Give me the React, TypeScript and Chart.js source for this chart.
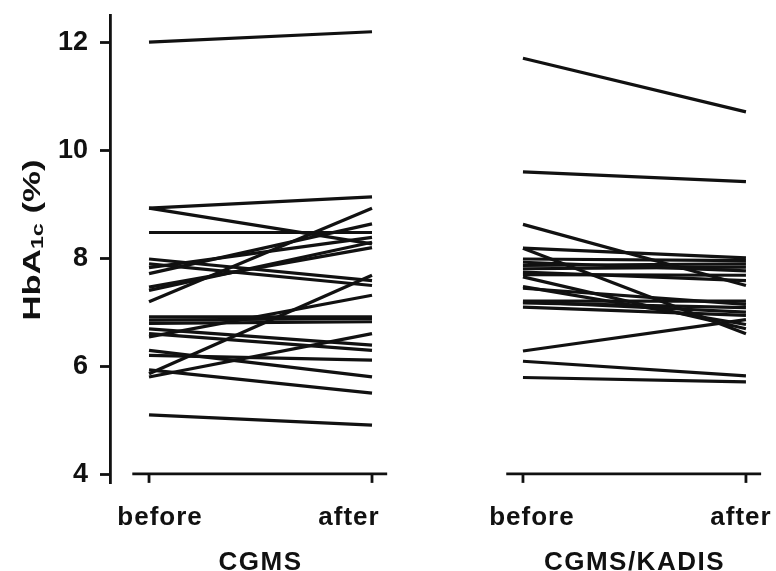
import React, { useEffect, useRef } from "react";
import { Chart, registerables } from "chart.js";

Chart.register(...registerables);

// ---- data ----
const yTickValues = [4, 6, 8, 10, 12];
const categoryPositions = [0, 1, 1.677, 2.677];
const categoryLabels = ["before", "after", "before", "after"];
const groupLabels = ["CGMS", "CGMS/KADIS"];
const yTitleMain = "HbA";
const yTitleSub = "1c";
const yTitleTail = " (%)";

const cgmsBefore = [12.0, 8.93, 8.93, 8.48, 7.99, 7.9, 7.83, 7.72, 7.47, 7.41, 7.2, 6.92, 6.86, 6.8, 6.7, 6.61, 6.55, 6.3, 6.21, 5.94, 5.87, 5.81, 5.11];
const cgmsAfter = [12.19, 9.14, 8.27, 8.48, 7.59, 7.5, 8.39, 8.64, 8.2, 8.3, 8.93, 6.92, 6.89, 6.83, 6.4, 6.3, 7.32, 5.81, 6.12, 5.51, 7.69, 6.61, 4.92];

const kadisBefore = [11.7, 9.6, 8.63, 8.19, 8.19, 7.99, 7.93, 7.87, 7.81, 7.75, 7.7, 7.66, 7.48, 7.45, 7.21, 7.2, 7.18, 7.1, 6.29, 6.1, 5.8];
const kadisAfter = [10.71, 9.42, 7.5, 8.01, 6.61, 7.96, 7.77, 7.9, 7.84, 7.59, 7.69, 6.7, 6.78, 7.15, 7.21, 7.01, 7.09, 6.95, 6.87, 5.83, 5.72];

const INK = "#111111";
const FONT = "'Liberation Sans', Arial, Helvetica, sans-serif";

function buildDatasets() {
  const sets: any[] = [];
  const add = (before: number[], after: number[], x0: number, x1: number) => {
    before.forEach((b, i) => {
      sets.push({
        data: [
          { x: x0, y: b },
          { x: x1, y: after[i] },
        ],
        borderColor: INK,
        borderWidth: 3.2,
        pointRadius: 0,
        fill: false,
        tension: 0,
      });
    });
  };
  add(cgmsBefore, cgmsAfter, categoryPositions[0], categoryPositions[1]);
  add(kadisBefore, kadisAfter, categoryPositions[2], categoryPositions[3]);
  return sets;
}

const decorPlugin = {
  id: "decor",
  afterDraw(chart: any) {
    const ctx = chart.ctx as CanvasRenderingContext2D;
    const xs = chart.scales.x;
    const ys = chart.scales.y;
    const axisY = ys.getPixelForValue(yTickValues[0]) - 1;
    ctx.save();
    ctx.strokeStyle = INK;
    ctx.fillStyle = INK;
    ctx.lineWidth = 2.8;
    ctx.lineCap = "butt";
    // x axis segments, one per group
    for (let g = 0; g < groupLabels.length; g++) {
      const a = categoryPositions[2 * g];
      const b = categoryPositions[2 * g + 1];
      const left = xs.getPixelForValue(a - 0.075);
      const right = xs.getPixelForValue(b + 0.068);
      ctx.beginPath();
      ctx.moveTo(left, axisY);
      ctx.lineTo(right, axisY);
      ctx.stroke();
      for (const v of [a, b]) {
        const px = xs.getPixelForValue(v);
        ctx.beginPath();
        ctx.moveTo(px, axisY);
        ctx.lineTo(px, axisY + 9);
        ctx.stroke();
      }
    }
    // category labels
    const labelShift = [11, -23, 9, -5];
    ctx.font = `bold 26px ${FONT}`;
    (ctx as any).letterSpacing = "1px";
    ctx.textAlign = "center";
    ctx.textBaseline = "alphabetic";
    categoryLabels.forEach((lab, i) => {
      const px = xs.getPixelForValue(categoryPositions[i]) + labelShift[i];
      ctx.fillText(lab, px, 525);
    });
    // group labels
    (ctx as any).letterSpacing = "1.5px";
    groupLabels.forEach((lab, g) => {
      const px = (xs.getPixelForValue(categoryPositions[2 * g]) + xs.getPixelForValue(categoryPositions[2 * g + 1])) / 2;
      ctx.fillText(lab, px, 570);
    });
    // y title with subscript
    (ctx as any).letterSpacing = "0px";
    ctx.translate(40, 240);
    ctx.rotate(-Math.PI / 2);
    ctx.scale(1.45, 1);
    const mainFont = `bold 24px ${FONT}`;
    const subFont = `bold 16px ${FONT}`;
    ctx.font = mainFont;
    const w1 = ctx.measureText(yTitleMain).width;
    const w3 = ctx.measureText(yTitleTail).width;
    ctx.font = subFont;
    const w2 = ctx.measureText(yTitleSub).width;
    const total = w1 + w2 + w3;
    let x = -total / 2;
    ctx.textAlign = "left";
    ctx.font = mainFont;
    ctx.fillText(yTitleMain, x, 0);
    x += w1;
    ctx.font = subFont;
    ctx.fillText(yTitleSub, x, 3);
    x += w2;
    ctx.font = mainFont;
    ctx.fillText(yTitleTail, x, 0);
    ctx.restore();
  },
};

export default function App() {
  const ref = useRef<HTMLCanvasElement | null>(null);
  useEffect(() => {
    if (!ref.current) return;
    const chart = new Chart(ref.current, {
      type: "line",
      data: { datasets: buildDatasets() },
      options: {
        animation: false,
        responsive: false,
        devicePixelRatio: 1,
        layout: { padding: { left: 0, right: 16, top: 15, bottom: 88 } },
        plugins: { legend: { display: false }, tooltip: { enabled: false } },
        scales: {
          x: {
            type: "linear",
            display: false,
            min: -0.175,
            max: 2.74,
          },
          y: {
            type: "linear",
            min: 3.85,
            max: 12.5,
            afterFit: (scale: any) => {
              scale.width = 110;
              scale.paddingTop = 0;
              scale.paddingBottom = 0;
            },
            afterBuildTicks: (scale: any) => {
              scale.ticks = yTickValues.map((v) => ({ value: v }));
            },
            ticks: {
              color: INK,
              font: { family: FONT, size: 27, weight: "bold" },
              padding: 12,
              callback: (v: any) => String(v),
            },
            grid: {
              drawOnChartArea: false,
              drawTicks: true,
              tickLength: 10,
              tickWidth: 2.8,
              tickColor: INK,
            },
            border: { display: true, color: INK, width: 2.8 },
          },
        },
      },
      plugins: [decorPlugin],
    });
    return () => chart.destroy();
  }, []);
  return (
    <div style={{ position: "absolute", left: 0, top: 0, width: 776, height: 571, background: "#fff" }}>
      <canvas ref={ref} width={776} height={571} style={{ width: 776, height: 571 }} />
    </div>
  );
}
